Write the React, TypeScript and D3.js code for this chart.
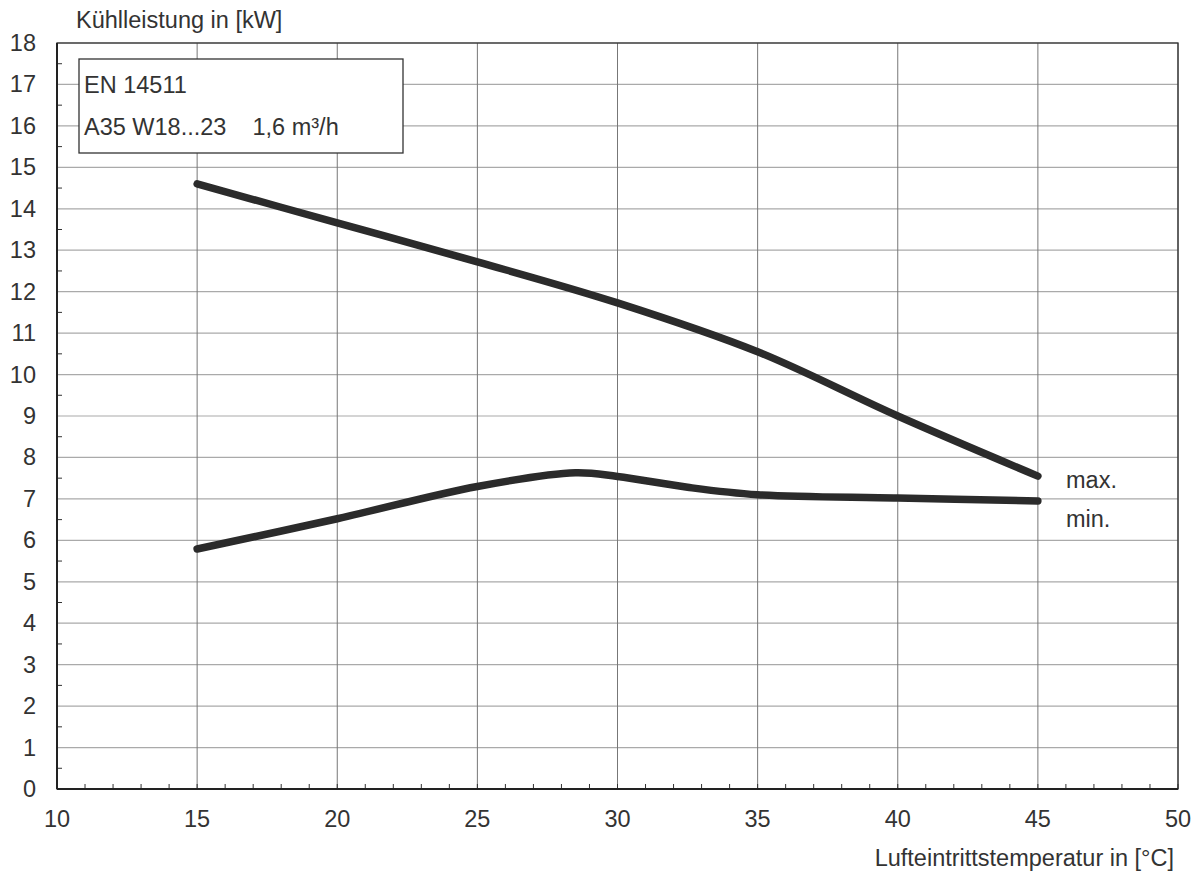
import React from "react";
import * as d3 from "d3";

const xTicks = [10, 15, 20, 25, 30, 35, 40, 45, 50];
const yTicks = [0, 1, 2, 3, 4, 5, 6, 7, 8, 9, 10, 11, 12, 13, 14, 15, 16, 17, 18];
const maxX = [15, 20, 25, 30, 35, 40, 45];
const maxY = [14.6, 13.66, 12.72, 11.73, 10.55, 9.0, 7.55];
const minX = [15, 20, 25, 28.5, 30, 32.5, 35, 40, 45];
const minY = [5.79, 6.52, 7.3, 7.63, 7.54, 7.28, 7.1, 7.02, 6.95];
const seriesLabels = ["max.", "min."];
const yTitle = "Kühlleistung in [kW]";
const xTitle = "Lufteintrittstemperatur in [°C]";
const boxLines = ["EN 14511", "A35 W18...23    1,6 m³/h"];

export default function App() {
  const W = 1203, H = 882;
  const left = 57, right = 1178, top = 43, bottom = 789;
  const x = d3.scaleLinear().domain([10, 50]).range([left, right]);
  const y = d3.scaleLinear().domain([0, 18]).range([bottom, top]);
  const line = d3.line<[number, number]>().x(d => x(d[0])).y(d => y(d[1])).curve(d3.curveCatmullRom.alpha(0.5));
  const maxPts = maxX.map((v, i) => [v, maxY[i]] as [number, number]);
  const minPts = minX.map((v, i) => [v, minY[i]] as [number, number]);
  const font = "Liberation Sans, Arial, sans-serif";
  const txt = "#333";
  const fs = 23.5;
  const xMinor = d3.range(10, 51, 1);
  const yMinor = d3.range(0.5, 18, 1);
  return (
    <svg width={W} height={H} style={{ position: "absolute", left: 0, top: 0, background: "#fff" }} fontFamily={font}>
      {yTicks.map(t => (
        <line key={"gy" + t} x1={left} x2={right} y1={y(t)} y2={y(t)} stroke="#aaa" strokeWidth={1.2} />
      ))}
      {xTicks.map(t => (
        <line key={"gx" + t} x1={x(t)} x2={x(t)} y1={top} y2={bottom} stroke="#777" strokeWidth={1} />
      ))}
      {xMinor.map(t => (
        <line key={"mx" + t} x1={x(t)} x2={x(t)} y1={bottom} y2={bottom - 5} stroke="#333" strokeWidth={1} />
      ))}
      {yMinor.map(t => (
        <line key={"my" + t} x1={left} x2={left + 5} y1={y(t)} y2={y(t)} stroke="#333" strokeWidth={1} />
      ))}
      <rect x={left} y={top} width={right - left} height={bottom - top} fill="none" stroke="#333" strokeWidth={1.3} />
      <line x1={left} x2={left} y1={top} y2={bottom} stroke="#222" strokeWidth={2} />
      <line x1={left} x2={right} y1={bottom} y2={bottom} stroke="#222" strokeWidth={2} />
      <rect x={79} y={59} width={324} height={94} fill="#fff" stroke="#333" strokeWidth={1.3} />
      {boxLines.map((s, i) => (
        <text key={s} x={84} y={93 + i * 42} fontSize={fs} fill={txt} style={{ whiteSpace: "pre" }}>{s}</text>
      ))}
      <path d={line(maxPts) || ""} fill="none" stroke="#2b2b2b" strokeWidth={7.5} strokeLinecap="round" strokeLinejoin="round" />
      <path d={line(minPts) || ""} fill="none" stroke="#2b2b2b" strokeWidth={7.5} strokeLinecap="round" strokeLinejoin="round" />
      <text x={1066} y={488} fontSize={fs} fill={txt}>{seriesLabels[0]}</text>
      <text x={1066} y={527} fontSize={fs} fill={txt}>{seriesLabels[1]}</text>
      {yTicks.map(t => (
        <text key={"ly" + t} x={36} y={y(t) + 8} fontSize={fs} textAnchor="end" fill={txt}>{t}</text>
      ))}
      {xTicks.map(t => (
        <text key={"lx" + t} x={x(t)} y={827} fontSize={fs} textAnchor="middle" fill={txt}>{t}</text>
      ))}
      <text x={76} y={28} fontSize={fs} fill={txt}>{yTitle}</text>
      <text x={1174} y={866} fontSize={fs} textAnchor="end" fill={txt}>{xTitle}</text>
    </svg>
  );
}
